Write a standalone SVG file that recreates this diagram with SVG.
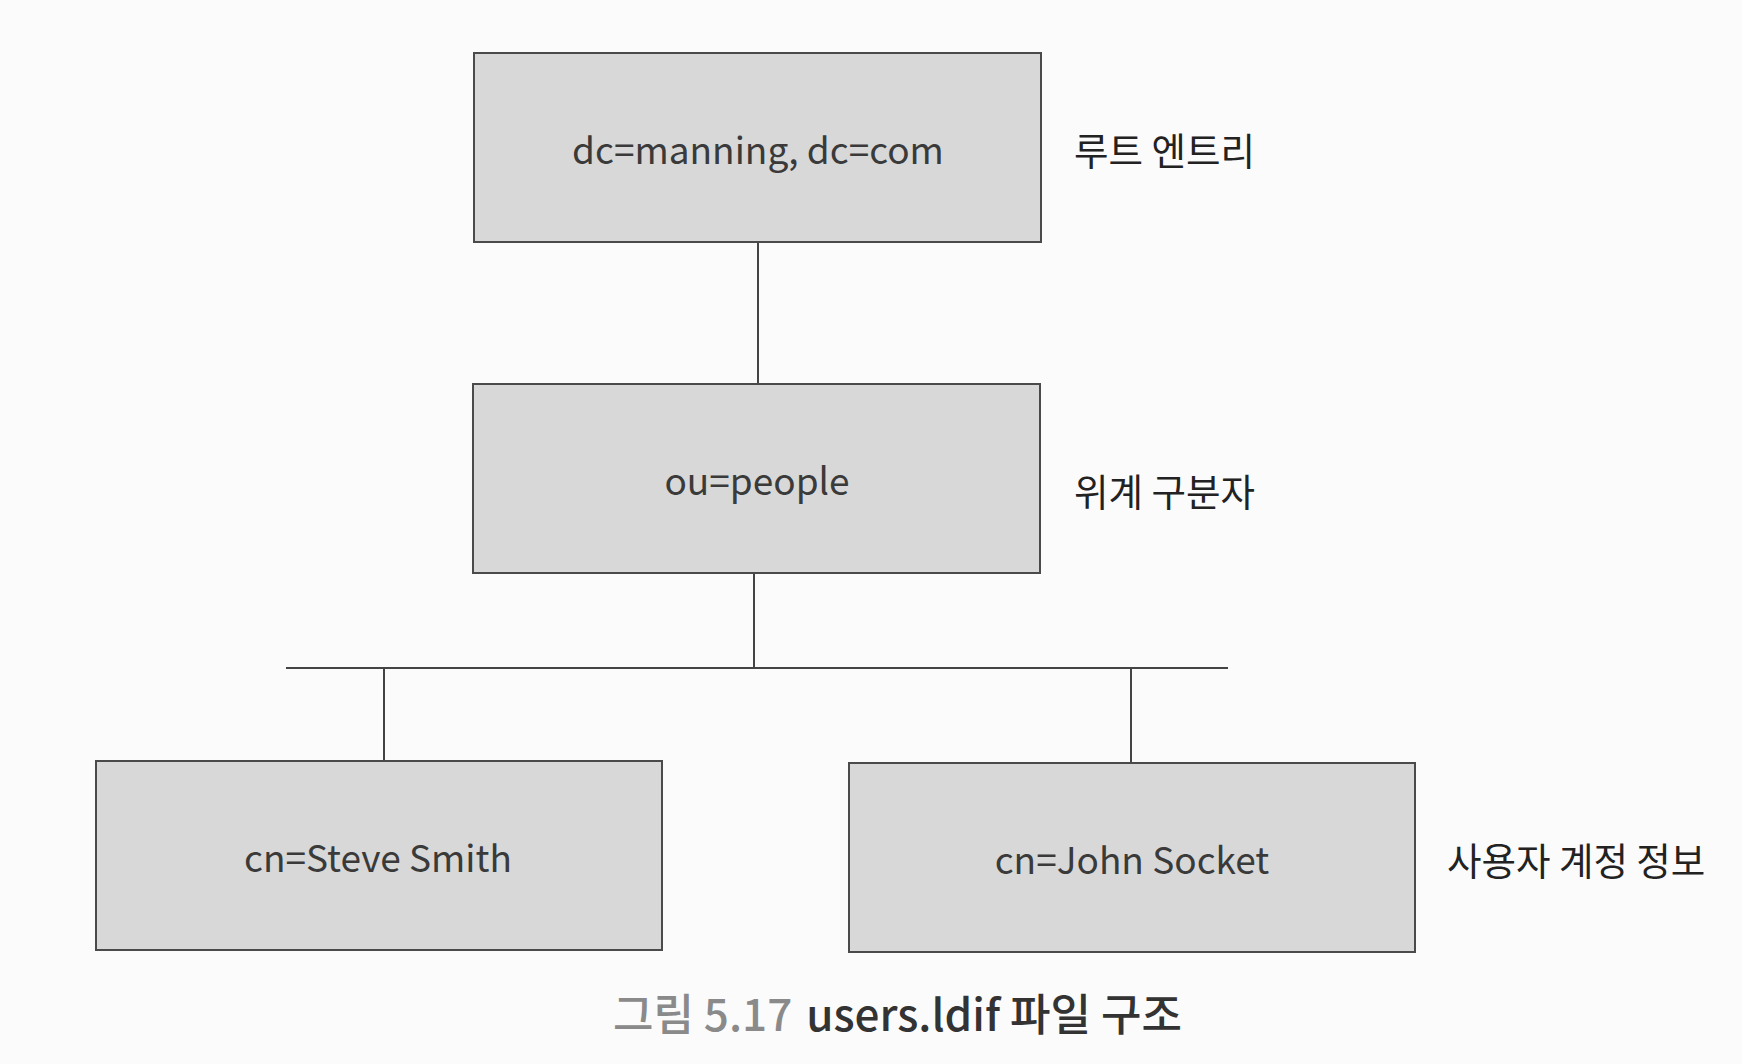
<svg xmlns="http://www.w3.org/2000/svg" width="1742" height="1064" viewBox="0 0 1742 1064">
<style>
.box{fill:#d8d8d8;stroke:#4a4a4a;stroke-width:2}
.lbl{font-family:"Noto Sans CJK KR","Noto Sans",sans-serif;font-size:37px;fill:#3a3a3a;text-anchor:middle;dominant-baseline:central}
.side{font-family:"Noto Sans CJK KR","Noto Sans",sans-serif;font-size:37.5px;fill:#222;dominant-baseline:central}
.conn{stroke:#444;stroke-width:2;fill:none}
.cap{font-family:"Noto Sans CJK KR","Noto Sans",sans-serif;font-size:44px;font-weight:500;dominant-baseline:central}
</style>
<rect width="1742" height="1064" fill="#fbfbfb"/>
<g id="connectors">
<line class="conn" x1="758" y1="242" x2="758" y2="384"/>
<line class="conn" x1="754" y1="573" x2="754" y2="668"/>
<line class="conn" x1="286" y1="668" x2="1228" y2="668"/>
<line class="conn" x1="384" y1="668" x2="384" y2="761"/>
<line class="conn" x1="1131" y1="668" x2="1131" y2="763"/>
</g>
<g id="root">
<rect class="box" x="474" y="53" width="567" height="189"/>
<text class="lbl" x="758" y="148">dc=manning, dc=com</text>
</g>
<g id="people">
<rect class="box" x="473" y="384" width="567" height="189"/>
<text class="lbl" x="757" y="479">ou=people</text>
</g>
<g id="steve">
<rect class="box" x="96" y="761" width="566" height="189"/>
<text class="lbl" x="378" y="856">cn=Steve Smith</text>
</g>
<g id="john">
<rect class="box" x="849" y="763" width="566" height="189"/>
<text class="lbl" x="1132" y="858">cn=John Socket</text>
</g>
<g id="labels">
<text class="side" x="1074" y="148">루트 엔트리</text>
<text class="side" x="1074" y="489">위계 구분자</text>
<text class="side" x="1447" y="858">사용자 계정 정보</text>
</g>
<g id="caption">
<text class="cap" x="613" y="1012"><tspan fill="#8a8a8a">그림 5.17</tspan><tspan fill="#333" dx="14">users.ldif 파일 구조</tspan></text>
</g>
</svg>
